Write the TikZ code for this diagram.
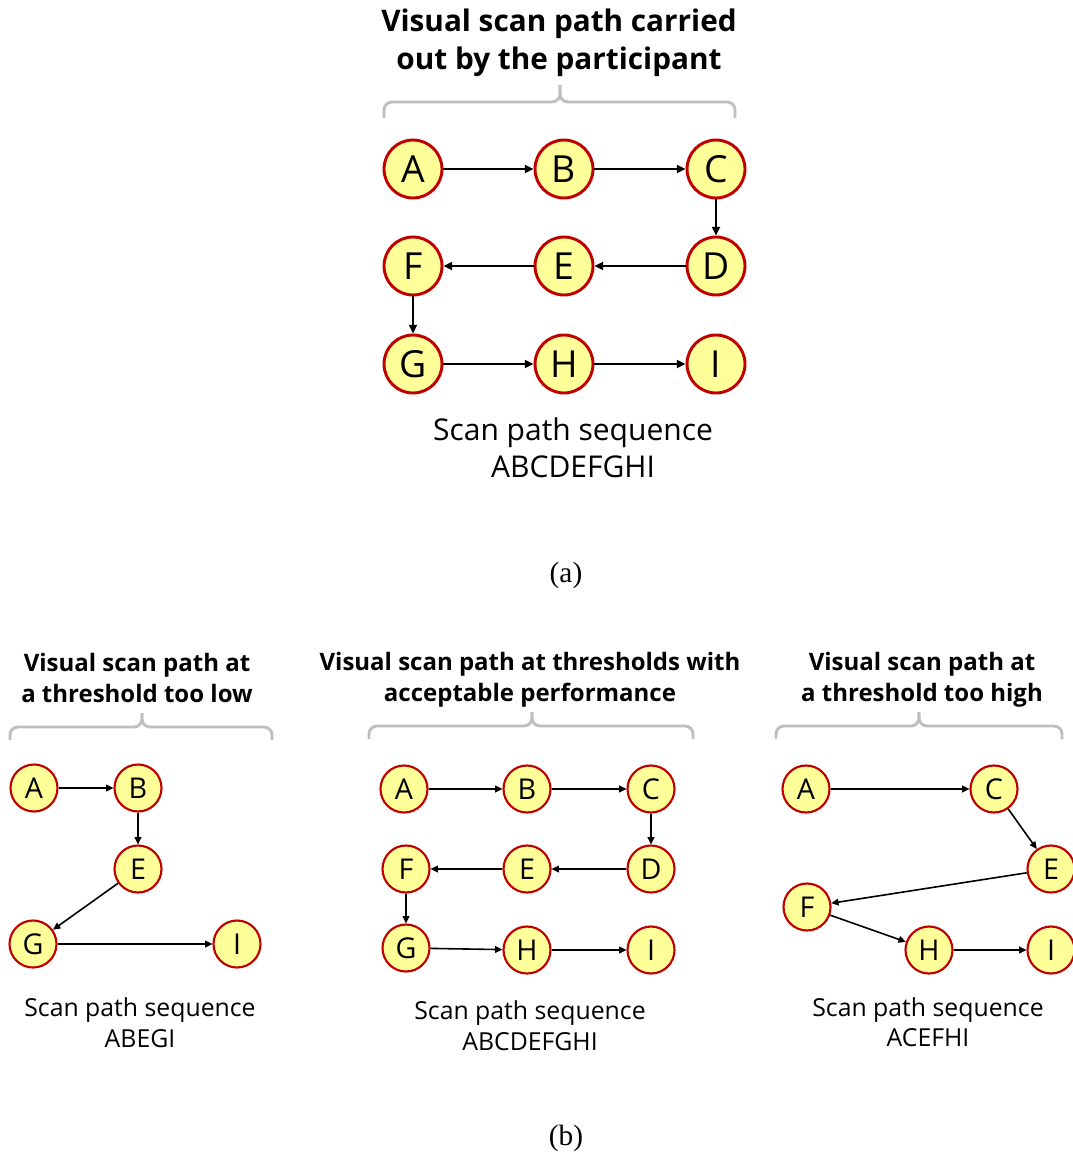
\documentclass[tikz,border=0pt]{standalone}
\usepackage{fontspec}
\setmainfont{Open Sans}
\newfontfamily\capfont{Liberation Serif}
\usetikzlibrary{arrows.meta}

\definecolor{nodefill}{RGB}{255,255,153}
\definecolor{noderim}{RGB}{192,0,0}
\definecolor{bracegray}{RGB}{191,191,191}

\tikzset{
  bignode/.style={circle, draw=noderim, fill=nodefill, line width=2.2pt,
    minimum size=58*0.75pt, inner sep=0pt, font=\fontsize{28}{28}\selectfont},
  smallnode/.style={circle, draw=noderim, fill=nodefill, line width=1.6pt,
    minimum size=47*0.75pt, inner sep=0pt, font=\fontsize{21.5}{22}\selectfont},
  bigarrow/.style={line width=1.5pt, -{Triangle[length=6.5pt,width=6pt]}},
  smallarrow/.style={line width=1.2pt, -{Triangle[length=5.5pt,width=5pt]}},
  bracket/.style={draw=bracegray, line width=2.2pt, rounded corners=6pt},
  bigtitle/.style={anchor=base, font=\bfseries\fontsize{22.3}{22}\selectfont},
  smalltitle/.style={anchor=base, font=\bfseries\fontsize{18}{18}\selectfont},
  bigcaption/.style={anchor=base, font=\fontsize{22.5}{22}\selectfont},
  smallcaption/.style={anchor=base, font=\fontsize{18.6}{18}\selectfont},
  panellabel/.style={anchor=base, font=\capfont\fontsize{22}{22}\selectfont},
}

% draws a bracket: left x, right x, centre x, foot y, bar y, spike top y
\newcommand{\groupbrace}[6]{%
  \draw[bracket] (#1,#4) |- (#3,#5) -- (#3,#6);
  \draw[bracket] (#2,#4) |- (#3,#5) -- (#3,#6);
}

\begin{document}
\begin{tikzpicture}[x=0.75pt,y=-0.75pt]
\useasboundingbox (0,0) rectangle (1073,1152);

% ---------- (a) full scan path ----------
\node[bigtitle] (ta1) at (559,32) {Visual scan path carried};
\node[bigtitle] (ta2) at (559,70) {out by the participant};
\groupbrace{384}{735}{560}{118}{102}{85}

\node[bignode] (aA) at (413,169) {A};
\node[bignode] (aB) at (564,169) {B};
\node[bignode] (aC) at (716,169) {C};
\node[bignode] (aF) at (413,266) {F};
\node[bignode] (aE) at (564,266) {E};
\node[bignode] (aD) at (716,266) {D};
\node[bignode] (aG) at (413,364) {G};
\node[bignode] (aH) at (564,364) {H};
\node[bignode] (aI) at (716,364) {I};

\draw[bigarrow] (aA) -- (aB);
\draw[bigarrow] (aB) -- (aC);
\draw[bigarrow] (aC) -- (aD);
\draw[bigarrow] (aD) -- (aE);
\draw[bigarrow] (aE) -- (aF);
\draw[bigarrow] (aF) -- (aG);
\draw[bigarrow] (aG) -- (aH);
\draw[bigarrow] (aH) -- (aI);

\node[bigcaption] (ca1) at (573,440) {Scan path sequence};
\node[bigcaption] (ca2) at (573,477) {ABCDEFGHI};
\node[panellabel] (la) at (566,582) {(a)};

% ---------- (b) left: threshold too low ----------
\node[smalltitle] (tl1) at (137,671) {Visual scan path at};
\node[smalltitle] (tl2) at (137,702) {a threshold too low};
\groupbrace{10}{272}{142}{740}{727}{713}

\node[smallnode] (lA) at (34,788) {A};
\node[smallnode] (lB) at (138,788) {B};
\node[smallnode] (lE) at (138,869) {E};
\node[smallnode] (lG) at (33,944) {G};
\node[smallnode] (lI) at (237,944) {I};

\draw[smallarrow] (lA) -- (lB);
\draw[smallarrow] (lB) -- (lE);
\draw[smallarrow] (lE) -- (lG);
\draw[smallarrow] (lG) -- (lI);

\node[smallcaption] (cl1) at (140,1016) {Scan path sequence};
\node[smallcaption] (cl2) at (140,1047) {ABEGI};

% ---------- (b) middle: acceptable thresholds ----------
\node[smalltitle] (tm1) at (530,670) {Visual scan path at thresholds with};
\node[smalltitle] (tm2) at (530,701) {acceptable performance};
\groupbrace{369}{693}{532}{739}{726}{712}

\node[smallnode] (mA) at (404,789) {A};
\node[smallnode] (mB) at (527,789) {B};
\node[smallnode] (mC) at (651,789) {C};
\node[smallnode] (mF) at (406,869) {F};
\node[smallnode] (mE) at (527,869) {E};
\node[smallnode] (mD) at (651,869) {D};
\node[smallnode] (mG) at (406,948) {G};
\node[smallnode] (mH) at (527,950) {H};
\node[smallnode] (mI) at (651,950) {I};

\draw[smallarrow] (mA) -- (mB);
\draw[smallarrow] (mB) -- (mC);
\draw[smallarrow] (mC) -- (mD);
\draw[smallarrow] (mD) -- (mE);
\draw[smallarrow] (mE) -- (mF);
\draw[smallarrow] (mF) -- (mG);
\draw[smallarrow] (mG) -- (mH);
\draw[smallarrow] (mH) -- (mI);

\node[smallcaption] (cm1) at (530,1019) {Scan path sequence};
\node[smallcaption] (cm2) at (530,1050) {ABCDEFGHI};

% ---------- (b) right: threshold too high ----------
\node[smalltitle] (th1) at (922,670) {Visual scan path at};
\node[smalltitle] (th2) at (922,701) {a threshold too high};
\groupbrace{776}{1062}{919}{739}{726}{712}

\node[smallnode] (hA) at (806,789) {A};
\node[smallnode] (hC) at (994,789) {C};
\node[smallnode] (hE) at (1051,869) {E};
\node[smallnode] (hF) at (807,907) {F};
\node[smallnode] (hH) at (929,950) {H};
\node[smallnode] (hI) at (1051,950) {I};

\draw[smallarrow] (hA) -- (hC);
\draw[smallarrow] (hC) -- (hE);
\draw[smallarrow] (hE) -- (hF);
\draw[smallarrow] (hF) -- (hH);
\draw[smallarrow] (hH) -- (hI);

\node[smallcaption] (ch1) at (928,1016) {Scan path sequence};
\node[smallcaption] (ch2) at (928,1046) {ACEFHI};

\node[panellabel] (lb) at (566,1145) {(b)};
\end{tikzpicture}
\end{document}
